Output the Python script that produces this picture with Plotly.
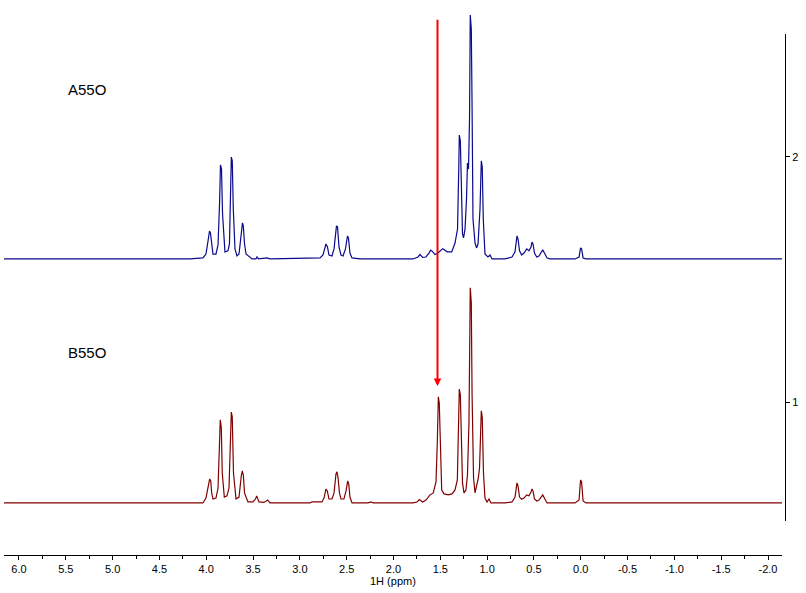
import plotly.graph_objects as go

# ---- data (chemical shift in ppm, intensity in axis units) ----
ppm_A = [6.160, 4.174, 4.035, 4.003, 3.981, 3.965, 3.955, 3.944, 3.928, 3.896, 3.874, 3.858, 3.848, 3.837, 3.826,
         3.800, 3.768, 3.752, 3.741, 3.732, 3.722, 3.711, 3.693, 3.672, 3.650, 3.623, 3.613, 3.604, 3.591, 3.575,
         3.543, 3.511, 3.469, 3.458, 3.442, 3.351, 3.319, 2.785, 2.753, 2.721, 2.705, 2.689, 2.657, 2.635, 2.609,
         2.598, 2.582, 2.561, 2.539, 2.513, 2.491, 2.481, 2.465, 2.443, 2.358, 1.792, 1.738, 1.717, 1.688, 1.653,
         1.621, 1.603, 1.589, 1.557, 1.525, 1.474, 1.425, 1.378, 1.343, 1.316, 1.303, 1.297, 1.286, 1.276, 1.263,
         1.252, 1.236, 1.220, 1.210, 1.199, 1.188, 1.180, 1.169, 1.161, 1.151, 1.129, 1.113, 1.097, 1.076, 1.062,
         1.052, 1.041, 1.023, 0.991, 0.969, 0.948, 0.809, 0.734, 0.702, 0.681, 0.670, 0.654, 0.631, 0.606, 0.577,
         0.553, 0.531, 0.521, 0.510, 0.494, 0.470, 0.446, 0.406, 0.382, 0.360, 0.328, 0.061, 0.018, 0.002, -0.009,
         -0.025, -0.056, -2.150]
int_A = [0, 0, 0.004, 0.020, 0.073, 0.114, 0.106, 0.061, 0.020, 0.020, 0.057, 0.224, 0.384, 0.367, 0.184,
         0.029, 0.033, 0.061, 0.253, 0.416, 0.400, 0.204, 0.041, 0.012, 0.020, 0.102, 0.147, 0.135, 0.061, 0.020,
         0.008, 0, 0, 0.008, 0, 0.004, 0, 0.004, 0.016, 0.061, 0.049, 0.016, 0.012, 0.041, 0.135,
         0.131, 0.049, 0.016, 0.012, 0.041, 0.094, 0.086, 0.024, 0.004, 0, 0, 0.008, 0.018, 0.006, 0.008,
         0.024, 0.036, 0.033, 0.018, 0.024, 0.042, 0.029, 0.029, 0.065, 0.122, 0.367, 0.506, 0.482, 0.245, 0.102,
         0.086, 0.122, 0.245, 0.392, 0.367, 0.571, 0.996, 0.939, 0.633, 0.163, 0.065, 0.045, 0.061, 0.204, 0.400,
         0.376, 0.163, 0.020, 0.008, 0.016, 0, 0, 0.008, 0.029, 0.094, 0.082, 0.033, 0.016, 0.024, 0.041,
         0.033, 0.049, 0.069, 0.061, 0.024, 0.008, 0.012, 0.037, 0.020, 0.004, 0, 0, 0.008, 0.045, 0.041,
         0.004, 0, 0]

ppm_B = [6.160, 4.174, 4.035, 4.003, 3.981, 3.963, 3.952, 3.942, 3.928, 3.896, 3.874, 3.861, 3.850, 3.839, 3.829,
         3.807, 3.778, 3.757, 3.743, 3.732, 3.722, 3.709, 3.682, 3.650, 3.626, 3.615, 3.604, 3.591, 3.575, 3.554,
         3.501, 3.474, 3.461, 3.451, 3.437, 3.383, 3.344, 3.319, 2.892, 2.870, 2.764, 2.742, 2.721, 2.707, 2.689,
         2.657, 2.635, 2.614, 2.603, 2.593, 2.577, 2.561, 2.529, 2.507, 2.489, 2.478, 2.465, 2.443, 2.272, 2.240,
         2.219, 1.792, 1.749, 1.724, 1.688, 1.653, 1.610, 1.575, 1.546, 1.532, 1.521, 1.511, 1.500, 1.485, 1.460,
         1.415, 1.375, 1.343, 1.318, 1.308, 1.297, 1.286, 1.276, 1.263, 1.247, 1.226, 1.210, 1.194, 1.180, 1.169,
         1.161, 1.145, 1.129, 1.108, 1.094, 1.081, 1.062, 1.052, 1.039, 1.023, 1.001, 0.980, 0.959, 0.809, 0.734,
         0.702, 0.681, 0.670, 0.654, 0.631, 0.606, 0.577, 0.553, 0.531, 0.521, 0.510, 0.494, 0.470, 0.446, 0.406,
         0.382, 0.360, 0.061, 0.018, 0.002, -0.009, -0.025, -0.056, -2.150]
int_B = [0, 0, 0, 0.020, 0.061, 0.098, 0.090, 0.041, 0.016, 0.020, 0.061, 0.204, 0.339, 0.306, 0.122,
         0.024, 0.029, 0.061, 0.269, 0.371, 0.351, 0.122, 0.016, 0.024, 0.110, 0.131, 0.114, 0.041, 0.024, 0.004,
         0.004, 0.016, 0.029, 0.020, 0.004, 0.002, 0.012, 0, 0, 0.004, 0.004, 0.020, 0.057, 0.049, 0.016,
         0.016, 0.041, 0.118, 0.127, 0.106, 0.041, 0.016, 0.016, 0.049, 0.090, 0.078, 0.024, 0, 0, 0.004,
         0, 0, 0.004, 0.014, 0.004, 0.012, 0.033, 0.041, 0.086, 0.249, 0.433, 0.408, 0.249, 0.053, 0.037,
         0.033, 0.037, 0.053, 0.094, 0.290, 0.465, 0.441, 0.224, 0.082, 0.041, 0.053, 0.114, 0.327, 0.878, 0.816,
         0.449, 0.102, 0.041, 0.073, 0.102, 0.143, 0.376, 0.351, 0.122, 0.020, 0.004, 0.016, 0, 0, 0.004,
         0.024, 0.082, 0.069, 0.024, 0.015, 0.020, 0.033, 0.029, 0.045, 0.057, 0.049, 0.016, 0.008, 0.012, 0.033,
         0.016, 0, 0, 0.012, 0.094, 0.086, 0.008, 0, 0]

sample_names = ["A55O", "B55O"]
baseline_offsets = [1.584, 0.588]

tick_vals = [6.0, 5.5, 5.0, 4.5, 4.0, 3.5, 3.0, 2.5, 2.0, 1.5, 1.0, 0.5, 0.0, -0.5, -1.0, -1.5, -2.0]
tick_text = ["6.0", "5.5", "5.0", "4.5", "4.0", "3.5", "3.0", "2.5", "2.0", "1.5", "1.0", "0.5", "0.0",
             "-0.5", "-1.0", "-1.5", "-2.0"]
right_ticks = [1, 2]

arrow_ppm = 1.53
arrow_tip = 1.065
arrow_tail = 2.567

FONT = "Liberation Sans"

fig = go.Figure()
fig.add_trace(go.Scatter(x=ppm_A, y=[v + baseline_offsets[0] for v in int_A], mode="lines",
                         line=dict(color="#0a0a8c", width=1.2), hoverinfo="skip", showlegend=False))
fig.add_trace(go.Scatter(x=ppm_B, y=[v + baseline_offsets[1] for v in int_B], mode="lines",
                         line=dict(color="#800000", width=1.2), hoverinfo="skip", showlegend=False))
# dummy trace so the separate right-hand intensity axis is rendered
fig.add_trace(go.Scatter(x=[None], y=[None], yaxis="y2", hoverinfo="skip", showlegend=False))

W, H = 806, 593
ml, mr, mt, mb = 4, 20, 0, 38
plot_w = W - ml - mr
plot_h = H - mt - mb

fig.update_layout(
    width=W, height=H,
    margin=dict(l=ml, r=mr, t=mt, b=mb),
    paper_bgcolor="white", plot_bgcolor="rgba(0,0,0,0)",
    font=dict(family=FONT, size=11, color="black"),
    xaxis=dict(
        domain=[0, 778 / plot_w],
        range=[6.160, -2.1495],
        tickmode="array", tickvals=tick_vals, ticktext=tick_text,
        ticks="outside", ticklen=4, tickcolor="black", tickwidth=1,
        minor=dict(dtick=0.25, ticks="outside", ticklen=3, tickcolor="black", tickwidth=1, showgrid=False),
        showline=True, linecolor="black", linewidth=1,
        showgrid=False, zeroline=False,
        tickfont=dict(family=FONT, size=11, color="black"),
    ),
    yaxis=dict(
        domain=[0, 1],
        range=[0.3755, 2.641],
        visible=False, showgrid=False, zeroline=False,
    ),
    yaxis2=dict(
        domain=[(555 - 521) / plot_h, (555 - 34) / plot_h],
        range=[0.5143, 2.502],
        anchor="free", position=781 / plot_w, side="right",
        tickmode="array", tickvals=right_ticks, ticktext=[str(t) for t in right_ticks],
        ticks="outside", ticklen=4, tickcolor="black",
        showline=True, linecolor="black", linewidth=1,
        showgrid=False, zeroline=False,
        tickfont=dict(family=FONT, size=11, color="black"),
    ),
)

fig.add_annotation(x=5.5, y=2.2776, xref="x", yref="y", text=sample_names[0], showarrow=False,
                   xanchor="left", yanchor="middle", font=dict(family=FONT, size=15, color="black"))
fig.add_annotation(x=5.5, y=1.204, xref="x", yref="y", text=sample_names[1], showarrow=False,
                   xanchor="left", yanchor="middle", font=dict(family=FONT, size=15, color="black"))
fig.add_annotation(x=2.0, y=-26 / plot_h, xref="x", yref="paper", text="1H (ppm)", showarrow=False,
                   xanchor="center", yanchor="middle", font=dict(family=FONT, size=11, color="black"))
fig.add_annotation(x=arrow_ppm, y=arrow_tip, ax=arrow_ppm, ay=arrow_tail, xref="x", yref="y",
                   axref="x", ayref="y", text="", showarrow=True, arrowhead=2, arrowsize=0.75,
                   arrowwidth=2, arrowcolor="#ff0000")

fig.write_html("out.html", config={"displayModeBar": False},
               post_script="document.body.style.margin='0';document.body.style.overflow='hidden';")
